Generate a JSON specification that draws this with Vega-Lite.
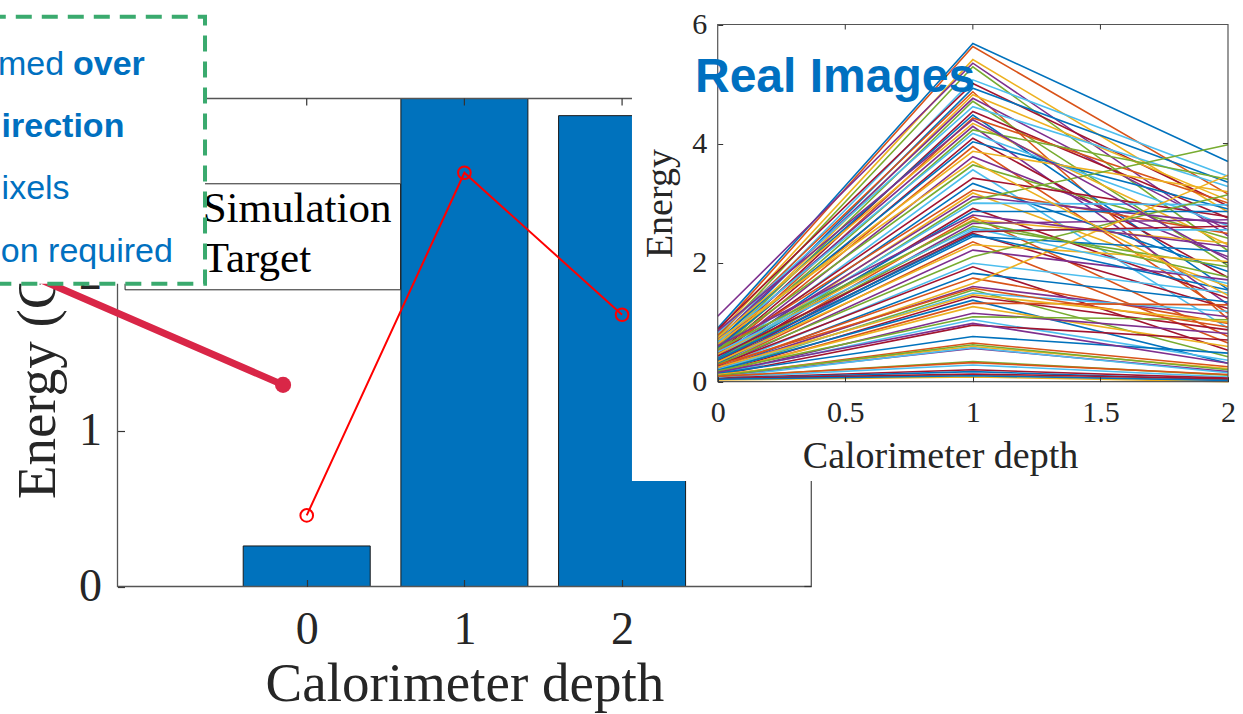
{
  "$schema": "https://vega.github.io/schema/vega-lite/v6.json",
  "width": 1243,
  "height": 714,
  "autosize": {"type": "none"},
  "padding": 0,
  "background": "white",
  "config": {"view": {"stroke": null}, "font": "Liberation Serif"},
  "datasets": {
    "sim": [{"depth": 0, "energy": 0.26}, {"depth": 1, "energy": 3.5}, {"depth": 2, "energy": 3.02}],
    "target": [{"depth": 0, "energy": 0.456}, {"depth": 1, "energy": 2.654}, {"depth": 2, "energy": 1.743}],
    "mainFrame": [{"depth": -1.2, "depth2": 3.2, "energy": 0, "energy2": 3.13}],
    "mainTicks": [
      {"depth": 0, "depth2": 0, "energy": 3.13, "energy2": 3.085},
      {"depth": 1, "depth2": 1, "energy": 3.13, "energy2": 3.085},
      {"depth": 2, "depth2": 2, "energy": 3.13, "energy2": 3.085},
      {"depth": 3.2, "depth2": 3.156, "energy": 0, "energy2": 0},
      {"depth": 3.2, "depth2": 3.156, "energy": 1, "energy2": 1},
      {"depth": 3.2, "depth2": 3.156, "energy": 2, "energy2": 2},
      {"depth": 3.2, "depth2": 3.156, "energy": 3, "energy2": 3}
    ],
    "legendBox": [{"depth": -1.152, "depth2": 0.595, "energy": 1.903, "energy2": 2.583}],
    "legendText": [{"depth": -0.66, "energy": 2.34, "label": "Simulation"}, {"depth": -0.66, "energy": 2.019, "label": "Target"}],
    "arrow": [{"depth": -1.819, "energy": 2.025}, {"depth": -0.15, "energy": 1.293}],
    "arrowEnd": [{"depth": -0.15, "energy": 1.293}],
    "noteBox": [{"depth": -2.01, "depth2": -0.645, "energy": 1.942, "energy2": 3.655}],
    "noteNormal": [
      {"depth": -1.958, "energy": 3.283, "label": "med"},
      {"depth": -1.935, "energy": 2.487, "label": "ixels"},
      {"depth": -1.94, "energy": 2.083, "label": "on required"}
    ],
    "noteBold": [
      {"depth": -1.482, "energy": 3.283, "label": "over"},
      {"depth": -1.935, "energy": 2.885, "label": "irection"}
    ],
    "insetBg": [{"depth": -0.336, "depth2": 2.1, "energy": -1.669, "energy2": 6.5}],
    "insetFrame": [{"depth": 0, "depth2": 2, "energy": 0, "energy2": 6}],
    "insetTicks": [
      {"depth": 0.5, "depth2": 0.5, "energy": 6, "energy2": 5.916},
      {"depth": 1, "depth2": 1, "energy": 6, "energy2": 5.916},
      {"depth": 1.5, "depth2": 1.5, "energy": 6, "energy2": 5.916},
      {"depth": 2, "depth2": 1.98, "energy": 2, "energy2": 2},
      {"depth": 2, "depth2": 1.98, "energy": 4, "energy2": 4}
    ],
    "insetTitle": [{"depth": -0.089, "energy": 4.87, "label": "Real Images"}],
    "real": [
      {"s":1,"depth":0,"energy":0.90},{"s":1,"depth":1,"energy":5.68},{"s":1,"depth":2,"energy":3.70},
      {"s":2,"depth":0,"energy":0.85},{"s":2,"depth":1,"energy":5.63},{"s":2,"depth":2,"energy":3.15},
      {"s":3,"depth":0,"energy":0.80},{"s":3,"depth":1,"energy":5.41},{"s":3,"depth":2,"energy":2.85},
      {"s":4,"depth":0,"energy":1.10},{"s":4,"depth":1,"energy":5.35},{"s":4,"depth":2,"energy":2.45},
      {"s":5,"depth":0,"energy":0.75},{"s":5,"depth":1,"energy":5.29},{"s":5,"depth":2,"energy":2.20},
      {"s":6,"depth":0,"energy":0.70},{"s":6,"depth":1,"energy":5.07},{"s":6,"depth":2,"energy":3.45},
      {"s":7,"depth":0,"energy":0.88},{"s":7,"depth":1,"energy":5.01},{"s":7,"depth":2,"energy":2.95},
      {"s":8,"depth":0,"energy":0.65},{"s":8,"depth":1,"energy":4.93},{"s":8,"depth":2,"energy":3.35},
      {"s":9,"depth":0,"energy":0.78},{"s":9,"depth":1,"energy":4.87},{"s":9,"depth":2,"energy":1.05},
      {"s":10,"depth":0,"energy":0.60},{"s":10,"depth":1,"energy":4.82},{"s":10,"depth":2,"energy":3.05},
      {"s":11,"depth":0,"energy":0.72},{"s":11,"depth":1,"energy":4.76},{"s":11,"depth":2,"energy":2.55},
      {"s":12,"depth":0,"energy":0.58},{"s":12,"depth":1,"energy":4.71},{"s":12,"depth":2,"energy":1.95},
      {"s":13,"depth":0,"energy":0.82},{"s":13,"depth":1,"energy":4.62},{"s":13,"depth":2,"energy":3.28},
      {"s":14,"depth":0,"energy":0.55},{"s":14,"depth":1,"energy":4.54},{"s":14,"depth":2,"energy":2.75},
      {"s":15,"depth":0,"energy":0.68},{"s":15,"depth":1,"energy":4.48},{"s":15,"depth":2,"energy":1.55},
      {"s":16,"depth":0,"energy":0.50},{"s":16,"depth":1,"energy":4.43},{"s":16,"depth":2,"energy":3.00},
      {"s":17,"depth":0,"energy":0.74},{"s":17,"depth":1,"energy":4.34},{"s":17,"depth":2,"energy":2.30},
      {"s":18,"depth":0,"energy":0.62},{"s":18,"depth":1,"energy":4.29},{"s":18,"depth":2,"energy":1.30},
      {"s":19,"depth":0,"energy":0.52},{"s":19,"depth":1,"energy":4.23},{"s":19,"depth":2,"energy":3.40},
      {"s":20,"depth":0,"energy":0.66},{"s":20,"depth":1,"energy":4.17},{"s":20,"depth":2,"energy":2.62},
      {"s":21,"depth":0,"energy":0.48},{"s":21,"depth":1,"energy":4.09},{"s":21,"depth":2,"energy":1.75},
      {"s":22,"depth":0,"energy":0.57},{"s":22,"depth":1,"energy":4.03},{"s":22,"depth":2,"energy":2.90},
      {"s":23,"depth":0,"energy":0.45},{"s":23,"depth":1,"energy":3.95},{"s":23,"depth":2,"energy":1.15},
      {"s":24,"depth":0,"energy":0.63},{"s":24,"depth":1,"energy":3.87},{"s":24,"depth":2,"energy":3.19},
      {"s":25,"depth":0,"energy":0.42},{"s":25,"depth":1,"energy":3.78},{"s":25,"depth":2,"energy":2.10},
      {"s":26,"depth":0,"energy":0.54},{"s":26,"depth":1,"energy":3.64},{"s":26,"depth":2,"energy":2.41},
      {"s":27,"depth":0,"energy":0.40},{"s":27,"depth":1,"energy":3.56},{"s":27,"depth":2,"energy":0.90},
      {"s":28,"depth":0,"energy":0.47},{"s":28,"depth":1,"energy":3.42},{"s":28,"depth":2,"energy":2.77},
      {"s":29,"depth":0,"energy":0.38},{"s":29,"depth":1,"energy":3.33},{"s":29,"depth":2,"energy":1.85},
      {"s":30,"depth":0,"energy":0.51},{"s":30,"depth":1,"energy":3.22},{"s":30,"depth":2,"energy":2.49},
      {"s":31,"depth":0,"energy":0.36},{"s":31,"depth":1,"energy":3.17},{"s":31,"depth":2,"energy":1.60},
      {"s":32,"depth":0,"energy":0.44},{"s":32,"depth":1,"energy":3.11},{"s":32,"depth":2,"energy":2.66},
      {"s":33,"depth":0,"energy":0.34},{"s":33,"depth":1,"energy":3.05},{"s":33,"depth":2,"energy":3.98},
      {"s":34,"depth":0,"energy":0.41},{"s":34,"depth":1,"energy":3.00},{"s":34,"depth":2,"energy":2.97},
      {"s":35,"depth":0,"energy":0.32},{"s":35,"depth":1,"energy":2.91},{"s":35,"depth":2,"energy":1.40},
      {"s":36,"depth":0,"energy":0.39},{"s":36,"depth":1,"energy":2.86},{"s":36,"depth":2,"energy":2.86},
      {"s":37,"depth":0,"energy":0.30},{"s":37,"depth":1,"energy":2.77},{"s":37,"depth":2,"energy":0.76},
      {"s":38,"depth":0,"energy":0.46},{"s":38,"depth":1,"energy":2.72},{"s":38,"depth":2,"energy":2.33},
      {"s":39,"depth":0,"energy":0.28},{"s":39,"depth":1,"energy":2.66},{"s":39,"depth":2,"energy":2.72},
      {"s":40,"depth":0,"energy":0.37},{"s":40,"depth":1,"energy":2.61},{"s":40,"depth":2,"energy":1.93},
      {"s":41,"depth":0,"energy":0.26},{"s":41,"depth":1,"energy":2.55},{"s":41,"depth":2,"energy":2.55},
      {"s":42,"depth":0,"energy":0.35},{"s":42,"depth":1,"energy":2.49},{"s":42,"depth":2,"energy":1.23},
      {"s":43,"depth":0,"energy":0.31},{"s":43,"depth":1,"energy":2.44},{"s":43,"depth":2,"energy":2.19},
      {"s":44,"depth":0,"energy":0.27},{"s":44,"depth":1,"energy":2.35},{"s":44,"depth":2,"energy":0.65},
      {"s":45,"depth":0,"energy":0.33},{"s":45,"depth":1,"energy":2.30},{"s":45,"depth":2,"energy":2.02},
      {"s":46,"depth":0,"energy":0.25},{"s":46,"depth":1,"energy":2.21},{"s":46,"depth":2,"energy":1.71},
      {"s":47,"depth":0,"energy":0.29},{"s":47,"depth":1,"energy":2.10},{"s":47,"depth":2,"energy":3.14},
      {"s":48,"depth":0,"energy":0.23},{"s":48,"depth":1,"energy":1.99},{"s":48,"depth":2,"energy":1.49},
      {"s":49,"depth":0,"energy":0.27},{"s":49,"depth":1,"energy":1.93},{"s":49,"depth":2,"energy":0.53},
      {"s":50,"depth":0,"energy":0.20},{"s":50,"depth":1,"energy":1.82},{"s":50,"depth":2,"energy":1.34},
      {"s":51,"depth":0,"energy":0.24},{"s":51,"depth":1,"energy":1.74},{"s":51,"depth":2,"energy":0.98},
      {"s":52,"depth":0,"energy":0.18},{"s":52,"depth":1,"energy":1.65},{"s":52,"depth":2,"energy":3.47},
      {"s":53,"depth":0,"energy":0.22},{"s":53,"depth":1,"energy":1.60},{"s":53,"depth":2,"energy":1.09},
      {"s":54,"depth":0,"energy":0.17},{"s":54,"depth":1,"energy":1.54},{"s":54,"depth":2,"energy":0.42},
      {"s":55,"depth":0,"energy":0.21},{"s":55,"depth":1,"energy":1.49},{"s":55,"depth":2,"energy":1.18},
      {"s":56,"depth":0,"energy":0.15},{"s":56,"depth":1,"energy":1.43},{"s":56,"depth":2,"energy":0.87},
      {"s":57,"depth":0,"energy":0.19},{"s":57,"depth":1,"energy":1.37},{"s":57,"depth":2,"energy":0.31},
      {"s":58,"depth":0,"energy":0.14},{"s":58,"depth":1,"energy":1.32},{"s":58,"depth":2,"energy":1.29},
      {"s":59,"depth":0,"energy":0.16},{"s":59,"depth":1,"energy":1.26},{"s":59,"depth":2,"energy":0.59},
      {"s":60,"depth":0,"energy":0.12},{"s":60,"depth":1,"energy":1.15},{"s":60,"depth":2,"energy":0.81},
      {"s":61,"depth":0,"energy":0.18},{"s":61,"depth":1,"energy":1.09},{"s":61,"depth":2,"energy":1.04},
      {"s":62,"depth":0,"energy":0.13},{"s":62,"depth":1,"energy":1.04},{"s":62,"depth":2,"energy":0.36},
      {"s":63,"depth":0,"energy":0.11},{"s":63,"depth":1,"energy":0.95},{"s":63,"depth":2,"energy":0.70},
      {"s":64,"depth":0,"energy":0.14},{"s":64,"depth":1,"energy":0.76},{"s":64,"depth":2,"energy":0.48},
      {"s":65,"depth":0,"energy":0.10},{"s":65,"depth":1,"energy":0.65},{"s":65,"depth":2,"energy":0.25},
      {"s":66,"depth":0,"energy":0.12},{"s":66,"depth":1,"energy":0.59},{"s":66,"depth":2,"energy":0.22},
      {"s":67,"depth":0,"energy":0.09},{"s":67,"depth":1,"energy":0.56},{"s":67,"depth":2,"energy":0.17},
      {"s":68,"depth":0,"energy":0.08},{"s":68,"depth":1,"energy":0.34},{"s":68,"depth":2,"energy":0.11},
      {"s":69,"depth":0,"energy":0.07},{"s":69,"depth":1,"energy":0.28},{"s":69,"depth":2,"energy":0.08},
      {"s":70,"depth":0,"energy":0.06},{"s":70,"depth":1,"energy":0.20},{"s":70,"depth":2,"energy":0.06},
      {"s":71,"depth":0,"energy":0.05},{"s":71,"depth":1,"energy":0.17},{"s":71,"depth":2,"energy":0.03},
      {"s":72,"depth":0,"energy":0.04},{"s":72,"depth":1,"energy":0.11},{"s":72,"depth":2,"energy":0.02},
      {"s":73,"depth":0,"energy":0.03},{"s":73,"depth":1,"energy":0.08},{"s":73,"depth":2,"energy":0.00},
      {"s":74,"depth":0,"energy":0.60},{"s":74,"depth":1,"energy":2.80},{"s":74,"depth":2,"energy":2.27},
      {"s":75,"depth":0,"energy":0.55},{"s":75,"depth":1,"energy":2.70},{"s":75,"depth":2,"energy":1.76},
      {"s":76,"depth":0,"energy":0.50},{"s":76,"depth":1,"energy":2.58},{"s":76,"depth":2,"energy":1.65},
      {"s":77,"depth":0,"energy":0.43},{"s":77,"depth":1,"energy":2.52},{"s":77,"depth":2,"energy":2.61},
      {"s":78,"depth":0,"energy":0.37},{"s":78,"depth":1,"energy":2.47},{"s":78,"depth":2,"energy":1.54},
      {"s":79,"depth":0,"energy":0.28},{"s":79,"depth":1,"energy":1.57},{"s":79,"depth":2,"energy":0.92},
      {"s":80,"depth":0,"energy":0.24},{"s":80,"depth":1,"energy":1.46},{"s":80,"depth":2,"energy":1.00},
      {"s":81,"depth":0,"energy":0.16},{"s":81,"depth":1,"energy":0.98},{"s":81,"depth":2,"energy":0.31},
      {"s":82,"depth":0,"energy":0.10},{"s":82,"depth":1,"energy":0.62},{"s":82,"depth":2,"energy":0.20},
      {"s":83,"depth":0,"energy":0.07},{"s":83,"depth":1,"energy":0.57},{"s":83,"depth":2,"energy":0.15},
      {"s":84,"depth":0,"energy":0.05},{"s":84,"depth":1,"energy":0.13},{"s":84,"depth":2,"energy":0.05},
      {"s":85,"depth":0,"energy":0.04},{"s":85,"depth":1,"energy":0.10},{"s":85,"depth":2,"energy":0.02},
      {"s":86,"depth":0,"energy":0.09},{"s":86,"depth":1,"energy":0.32},{"s":86,"depth":2,"energy":0.12},
      {"s":87,"depth":0,"energy":0.70},{"s":87,"depth":1,"energy":3.70},{"s":87,"depth":2,"energy":1.45},
      {"s":88,"depth":0,"energy":0.85},{"s":88,"depth":1,"energy":4.40},{"s":88,"depth":2,"energy":2.05}
    ]
  },
  "layer": [
    {
      "layer": [
        {
          "data": {"name": "sim"},
          "mark": {"type": "bar", "orient": "vertical", "width": 127, "fill": "#0072BD", "stroke": "#1a1a1a", "strokeWidth": 1},
          "encoding": {
            "x": {
              "field": "depth", "type": "quantitative",
              "scale": {"domain": [-1.2, 3.2], "range": [117.5, 811.3], "nice": false, "zero": false, "padding": 0},
              "axis": {
                "orient": "bottom", "offset": -127.5, "title": "Calorimeter depth", "values": [0, 1, 2], "format": "d",
                "domain": false, "grid": false, "tickSize": -7, "tickColor": "#333333", "tickWidth": 1.2,
                "labelFont": "Liberation Serif", "labelFontSize": 46, "labelColor": "#262626", "labelPadding": 27.5,
                "labelFlush": false, "labelOverlap": false,
                "titleFont": "Liberation Serif", "titleFontSize": 55, "titleFontWeight": "normal", "titleColor": "#262626",
                "titlePadding": 5, "zindex": 1
              }
            },
            "y": {
              "field": "energy", "type": "quantitative",
              "scale": {"domain": [0, 3.13], "range": [586.5, 98.5], "nice": false, "zero": false, "clamp": true},
              "axis": {
                "orient": "left", "offset": -117.5, "title": "Energy (GeV)", "values": [0, 1, 2, 3], "format": "d",
                "domain": false, "grid": false, "tickSize": -7, "tickColor": "#333333", "tickWidth": 1.2,
                "labelFont": "Liberation Serif", "labelFontSize": 46, "labelColor": "#262626", "labelPadding": 23,
                "labelOverlap": false,
                "titleFont": "Liberation Serif", "titleFontSize": 55, "titleFontWeight": "normal", "titleColor": "#262626",
                "titlePadding": 12, "zindex": 0
              }
            }
          }
        },
        {
          "data": {"name": "legendBox"},
          "mark": {"type": "rect", "fill": "white", "stroke": "#262626", "strokeWidth": 1},
          "encoding": {
            "x": {"field": "depth", "type": "quantitative"},
            "x2": {"field": "depth2"},
            "y": {"field": "energy", "type": "quantitative"},
            "y2": {"field": "energy2"}
          }
        },
        {
          "data": {"name": "legendText"},
          "mark": {"type": "text", "align": "left", "baseline": "alphabetic", "font": "Liberation Serif", "fontSize": 43, "color": "#000000"},
          "encoding": {
            "x": {"field": "depth", "type": "quantitative"},
            "y": {"field": "energy", "type": "quantitative"},
            "text": {"field": "label"}
          }
        },
        {
          "data": {"name": "target"},
          "mark": {"type": "line", "color": "#FF0000", "strokeWidth": 2},
          "encoding": {
            "x": {"field": "depth", "type": "quantitative"},
            "y": {"field": "energy", "type": "quantitative"}
          }
        },
        {
          "data": {"name": "target"},
          "mark": {"type": "point", "shape": "circle", "filled": false, "color": "#FF0000", "strokeWidth": 2, "size": 160, "opacity": 1},
          "encoding": {
            "x": {"field": "depth", "type": "quantitative"},
            "y": {"field": "energy", "type": "quantitative"}
          }
        },
        {
          "data": {"name": "mainFrame"},
          "mark": {"type": "rect", "filled": false, "stroke": "#555555", "strokeWidth": 1.3},
          "encoding": {
            "x": {"field": "depth", "type": "quantitative"},
            "x2": {"field": "depth2"},
            "y": {"field": "energy", "type": "quantitative"},
            "y2": {"field": "energy2"}
          }
        },
        {
          "data": {"name": "mainTicks"},
          "mark": {"type": "rule", "color": "#333333", "strokeWidth": 1.2},
          "encoding": {
            "x": {"field": "depth", "type": "quantitative"},
            "x2": {"field": "depth2"},
            "y": {"field": "energy", "type": "quantitative"},
            "y2": {"field": "energy2"}
          }
        }
      ]
    },
    {
      "encoding": {
        "x": {"field": "depth", "type": "quantitative", "scale": {"domain": [-1.2, 3.2], "range": [117.5, 811.3], "nice": false, "zero": false, "padding": 0}, "axis": null},
        "y": {"field": "energy", "type": "quantitative", "scale": {"domain": [0, 3.13], "range": [586.5, 98.5], "nice": false, "zero": false}, "axis": null}
      },
      "layer": [
        {
          "data": {"name": "arrow"},
          "mark": {"type": "line", "color": "#D92647", "strokeWidth": 7, "strokeCap": "round"}
        },
        {
          "data": {"name": "arrowEnd"},
          "mark": {"type": "circle", "color": "#D92647", "size": 260, "opacity": 1}
        },
        {
          "data": {"name": "noteBox"},
          "mark": {"type": "rect", "fill": "white", "stroke": "#3AAA6E", "strokeWidth": 4, "strokeDash": [16, 10]},
          "encoding": {
            "x2": {"field": "depth2"},
            "y2": {"field": "energy2"}
          }
        },
        {
          "data": {"name": "noteNormal"},
          "mark": {"type": "text", "align": "left", "baseline": "alphabetic", "font": "Liberation Sans", "fontSize": 34, "color": "#0070C0"},
          "encoding": {"text": {"field": "label"}}
        },
        {
          "data": {"name": "noteBold"},
          "mark": {"type": "text", "align": "left", "baseline": "alphabetic", "font": "Liberation Sans", "fontSize": 34, "fontWeight": "bold", "color": "#0070C0"},
          "encoding": {"text": {"field": "label"}}
        }
      ]
    },
    {
      "layer": [
        {
          "data": {"name": "insetBg"},
          "mark": {"type": "rect", "fill": "white", "strokeWidth": 0},
          "encoding": {
            "x": {
              "field": "depth", "type": "quantitative",
              "scale": {"domain": [0, 2], "range": [717.7, 1228], "nice": false, "zero": false, "padding": 0},
              "axis": {
                "orient": "bottom", "offset": -332.3, "title": "Calorimeter depth", "values": [0, 0.5, 1, 1.5, 2], "format": "~g",
                "domain": false, "grid": false, "tickSize": -5, "tickColor": "#333333", "tickWidth": 1,
                "labelFont": "Liberation Serif", "labelFontSize": 30, "labelColor": "#262626", "labelPadding": 21,
                "labelFlush": false, "labelOverlap": false,
                "titleFont": "Liberation Serif", "titleFontSize": 38, "titleFontWeight": "normal", "titleColor": "#262626",
                "titlePadding": 10, "titleX": 940, "zindex": 1
              }
            },
            "x2": {"field": "depth2"},
            "y": {
              "field": "energy", "type": "quantitative",
              "scale": {"domain": [0, 6], "range": [381.7, 24.5], "nice": false, "zero": false},
              "axis": {
                "orient": "left", "offset": -717.7, "title": "Energy", "values": [0, 2, 4, 6], "format": "d",
                "domain": false, "grid": false, "tickSize": -5, "tickColor": "#333333", "tickWidth": 1,
                "labelFont": "Liberation Serif", "labelFontSize": 30, "labelColor": "#262626", "labelPadding": 16,
                "labelOverlap": false,
                "titleFont": "Liberation Serif", "titleFontSize": 38, "titleFontWeight": "normal", "titleColor": "#262626",
                "titlePadding": 12, "zindex": 1
              }
            },
            "y2": {"field": "energy2"}
          }
        },
        {
          "data": {"name": "real"},
          "mark": {"type": "line", "strokeWidth": 1.6},
          "encoding": {
            "x": {"field": "depth", "type": "quantitative"},
            "y": {"field": "energy", "type": "quantitative"},
            "color": {
              "field": "s", "type": "nominal", "legend": null,
              "scale": {"range": ["#0072BD", "#D95319", "#EDB120", "#7E2F8E", "#77AC30", "#4DBEEE", "#A2142F"]}
            }
          }
        },
        {
          "data": {"name": "insetFrame"},
          "mark": {"type": "rect", "filled": false, "stroke": "#555555", "strokeWidth": 1.2},
          "encoding": {
            "x": {"field": "depth", "type": "quantitative"},
            "x2": {"field": "depth2"},
            "y": {"field": "energy", "type": "quantitative"},
            "y2": {"field": "energy2"}
          }
        },
        {
          "data": {"name": "insetTicks"},
          "mark": {"type": "rule", "color": "#333333", "strokeWidth": 1},
          "encoding": {
            "x": {"field": "depth", "type": "quantitative"},
            "x2": {"field": "depth2"},
            "y": {"field": "energy", "type": "quantitative"},
            "y2": {"field": "energy2"}
          }
        },
        {
          "data": {"name": "insetTitle"},
          "mark": {"type": "text", "align": "left", "baseline": "alphabetic", "font": "Liberation Sans", "fontSize": 48, "fontWeight": "bold", "color": "#0070C0"},
          "encoding": {
            "x": {"field": "depth", "type": "quantitative"},
            "y": {"field": "energy", "type": "quantitative"},
            "text": {"field": "label"}
          }
        }
      ]
    }
  ],
  "resolve": {
    "scale": {"x": "independent", "y": "independent", "color": "independent"},
    "axis": {"x": "independent", "y": "independent"}
  }
}
